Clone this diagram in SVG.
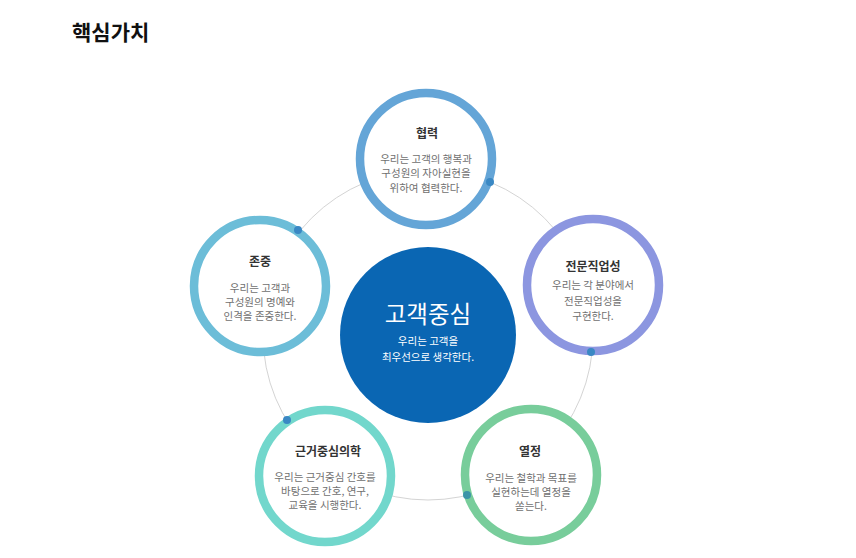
<svg xmlns="http://www.w3.org/2000/svg" width="856" height="558" viewBox="0 0 856 558">
<style>
text{font-family:"Noto Sans CJK KR","Noto Sans",sans-serif;text-anchor:middle}
.h{font-size:21px;font-weight:700;fill:#111;text-anchor:start}
.t{font-size:12px;font-weight:700;fill:#333}
.b{font-size:10.5px;fill:#707070}
.ring{fill:#fff;stroke-width:8.5}
.dot{fill:#3a88c4}
.orbit{fill:none;stroke:#d4d4d4;stroke-width:1}
.ct{font-size:23.5px;fill:#fff}
.cb{font-size:10.5px;fill:#fff}
</style>
<rect width="856" height="558" fill="#fff"/>
<text class="h" x="72" y="40">핵심가치</text>
<g id="connectors">
<circle class="orbit" cx="428" cy="335" r="165"/>
</g>
<g id="node-center">
<circle cx="428" cy="335" r="88" fill="#0a66b3"/>
<text class="ct" x="428" y="323">고객중심</text>
<text class="cb" x="428" y="345">우리는 고객을</text>
<text class="cb" x="428" y="361">최우선으로 생각한다.</text>
</g>
<g id="node-hyeopryeok">
<circle class="ring" cx="426" cy="159" r="66" stroke="#64a5d7"/>
<text class="t" x="427" y="138">협력</text>
<text class="b" x="426" y="163">우리는 고객의 행복과</text>
<text class="b" x="426" y="177">구성원의 자아실현을</text>
<text class="b" x="426" y="192">위하여 협력한다.</text>
</g>
<g id="node-jonjung">
<circle class="ring" cx="260" cy="286" r="66" stroke="#6cbdd8"/>
<text class="t" x="260" y="266">존중</text>
<text class="b" x="260" y="292">우리는 고객과</text>
<text class="b" x="260" y="306">구성원의 명예와</text>
<text class="b" x="260" y="320">인격을 존중한다.</text>
</g>
<g id="node-jeonmun">
<circle class="ring" cx="593" cy="285" r="66" stroke="#8c96e0"/>
<text class="t" x="593" y="271">전문직업성</text>
<text class="b" x="593" y="289">우리는 각 분야에서</text>
<text class="b" x="593" y="305">전문직업성을</text>
<text class="b" x="593" y="320">구현한다.</text>
</g>
<g id="node-geungeo">
<circle class="ring" cx="325" cy="476" r="66" stroke="#72d7cc"/>
<text class="t" x="328" y="456">근거중심의학</text>
<text class="b" x="325" y="481">우리는 근거중심 간호를</text>
<text class="b" x="325" y="495">바탕으로 간호, 연구,</text>
<text class="b" x="325" y="509">교육을 시행한다.</text>
</g>
<g id="node-yeoljeong">
<circle class="ring" cx="531" cy="475" r="66" stroke="#78cd9b"/>
<text class="t" x="530" y="456">열정</text>
<text class="b" x="531" y="482">우리는 철학과 목표를</text>
<text class="b" x="531" y="496">실현하는데 열정을</text>
<text class="b" x="531" y="510">쏟는다.</text>
</g>
<g id="orbit-dots">
<circle class="dot" cx="490" cy="182" r="4"/>
<circle class="dot" cx="591" cy="352" r="4"/>
<circle class="dot" cx="467" cy="495" r="4" style="fill:#3c95a8"/>
<circle class="dot" cx="287" cy="420" r="4"/>
<circle class="dot" cx="298" cy="230" r="4"/>
</g>
</svg>
